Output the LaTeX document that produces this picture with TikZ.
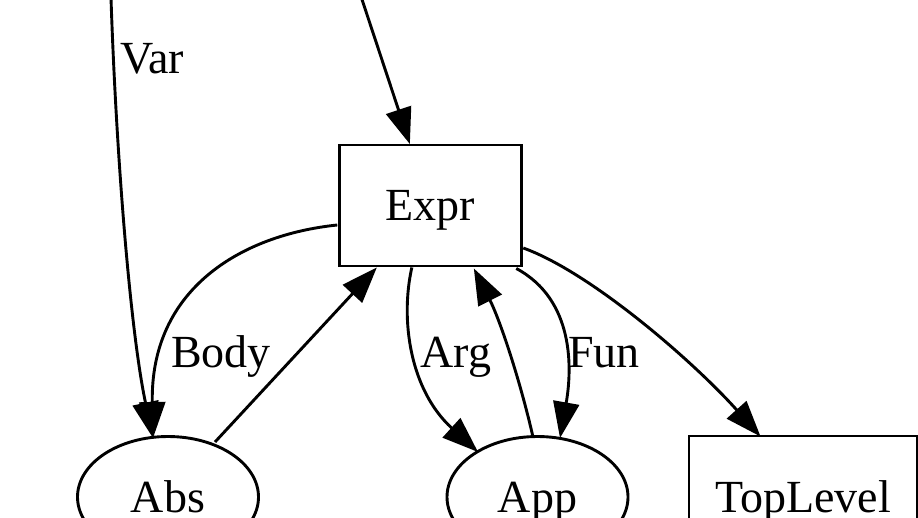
\documentclass[tikz,border=0pt]{standalone}
\usepackage{fontspec}
\setmainfont{Liberation Serif}
\usetikzlibrary{arrows.meta,calc,shapes.geometric}
\begin{document}
\begin{tikzpicture}[x=1pt,y=-1pt,
  every node/.style={font=\fontsize{46}{52}\selectfont},
  gbox/.style={draw,line width=2.9pt,rectangle,inner sep=0pt,minimum height=121pt,text depth=0pt},
  gell/.style={draw,line width=2.9pt,ellipse,inner sep=0pt,minimum width=181pt,minimum height=121pt,text depth=0pt},
  lbl/.style={inner sep=0pt,text depth=0pt},
  edge/.style={line width=2.9pt,-{Triangle[length=36pt,width=26pt]}}]
\useasboundingbox (0,0) rectangle (918,517);
\clip (0,0) rectangle (918,517);
% nodes
\node[gbox,minimum width=182pt] (expr) at (430.3,205.5) {Expr};
\node[gell] (abs) at (168,497) {Abs};
\node[gell] (app) at (537.5,497) {App};
\node[gbox,minimum width=228pt] (top) at (803,496.5) {TopLevel};
\coordinate (varsrc) at (111,-2);
\coordinate (exprsrc) at (361.5,-2);
% labels
\node[lbl] (lvar) at (152,58) {Var};
\node[lbl] (lbody) at (221,352) {Body};
\node[lbl] (larg) at (456,352) {Arg};
\node[lbl] (lfun) at (604,352) {Fun};
% edges
\draw[edge] (varsrc) .. controls (116,150) and (130,330) .. ($(abs.center)+(-15,-59)$);
\draw[edge] (exprsrc) -- ($(expr.north west)+(72,0.5)$);
\draw[edge] ($(expr.center)+(-93,19.5)$) .. controls (240,235) and (150,290) .. ($(abs.center)+(-15,-59)$);
\draw[edge] ($(abs.center)+(47,-55)$) -- ($(expr.south west)+(39,0)$);
\draw[edge] ($(expr.south west)+(74,0)$) .. controls (400,320) and (410,390) .. ($(app.center)+(-59.5,-45)$);
\draw[edge] ($(app.center)+(-4.5,-60)$) .. controls (520,380) and (500,320) .. ($(expr.south west)+(136,1)$);
\draw[edge] ($(expr.south east)+(-6.5,1)$) .. controls (575,300) and (572,370) .. ($(app.center)+(22.5,-59)$);
\draw[edge] ($(expr.east)+(0.5,42.5)$) .. controls (590,272) and (692,360) .. ($(top.north west)+(73,2)$);
\end{tikzpicture}
\end{document}
